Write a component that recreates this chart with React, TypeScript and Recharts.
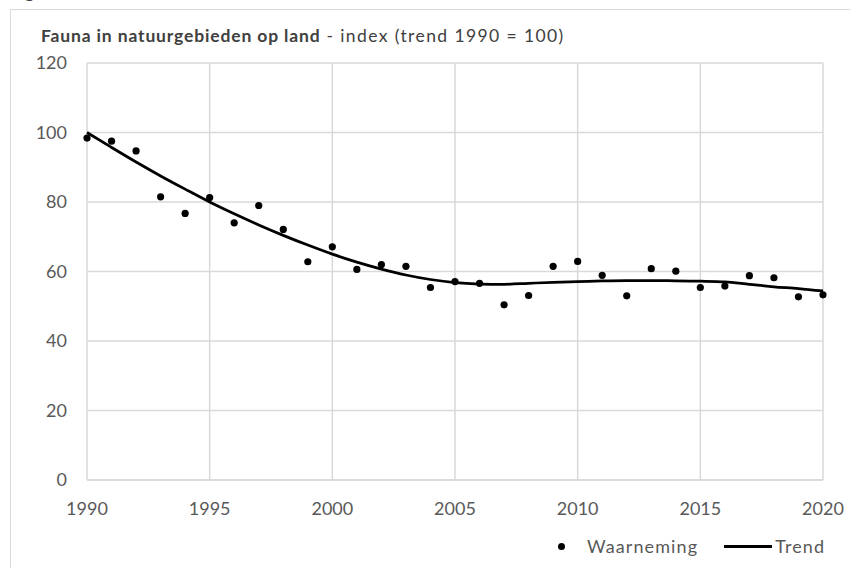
import React from "react";
import {
  ComposedChart,
  Line,
  Scatter,
  XAxis,
  YAxis,
  CartesianGrid,
} from "recharts";

const years = [
  1990, 1991, 1992, 1993, 1994, 1995, 1996, 1997, 1998, 1999, 2000, 2001,
  2002, 2003, 2004, 2005, 2006, 2007, 2008, 2009, 2010, 2011, 2012, 2013,
  2014, 2015, 2016, 2017, 2018, 2019, 2020,
];

// waarneming (observed index)
const observed = [
  98.4, 97.5, 94.7, 81.5, 76.7, 81.3, 74.0, 79.0, 72.1, 62.8, 67.1, 60.6,
  62.0, 61.5, 55.4, 57.1, 56.6, 50.4, 53.1, 61.5, 62.9, 58.9, 53.0, 60.8,
  60.1, 55.4, 55.8, 58.8, 58.2, 52.7, 53.3,
];

// trend line
const trend = [
  100, 95.7, 91.5, 87.5, 83.7, 80.0, 76.6, 73.4, 70.4, 67.6, 65.0, 62.7,
  60.7, 59.0, 57.7, 56.8, 56.4, 56.3, 56.6, 56.9, 57.1, 57.3, 57.4, 57.4,
  57.3, 57.2, 57.0, 56.3, 55.6, 55.1, 54.4,
];

const xTicks = [1990, 1995, 2000, 2005, 2010, 2015, 2020];
const yTicks = [0, 20, 40, 60, 80, 100, 120];

const rows = years.map((year, i) => ({
  year,
  obs: observed[i],
  trend: trend[i],
}));

const font = "Lato, 'Open Sans', sans-serif";
const tickStyle = { fontSize: 18, fill: "#595959", fontFamily: font };

export default function App() {
  return (
    <div
      style={{
        position: "absolute",
        left: 0,
        top: 0,
        width: 850,
        height: 568,
        overflow: "hidden",
        background: "#fff",
        fontFamily: font,
      }}
    >
      <div
        style={{
          position: "absolute",
          left: 10,
          top: -20,
          fontSize: 18,
          fontWeight: 700,
          color: "#404040",
        }}
      >
        Figuur 1
      </div>
      <div
        style={{
          position: "absolute",
          left: 10,
          top: 9,
          width: 900,
          height: 600,
          borderLeft: "1.5px solid #d9d9d9",
          borderTop: "1.5px solid #d9d9d9",
        }}
      />
      <div
        style={{
          position: "absolute",
          left: 41,
          top: 25,
          fontSize: 17.5,
          color: "#404040",
          whiteSpace: "nowrap",
        }}
      >
        <b style={{ letterSpacing: 0.85 }}>Fauna in natuurgebieden op land</b>
        <span style={{ letterSpacing: 1.4 }}> - index (trend 1990 = 100)</span>
      </div>
      <div style={{ position: "absolute", left: 0, top: 0 }}>
        <ComposedChart
          width={850}
          height={568}
          data={rows}
          margin={{ top: 63, right: 27, bottom: 58, left: 0 }}
        >
          <CartesianGrid stroke="#d9d9d9" strokeWidth={1.5} />
          <XAxis
            dataKey="year"
            type="number"
            domain={[1990, 2020]}
            ticks={xTicks}
            tickLine={false}
            tickSize={0}
            tickMargin={22}
            axisLine={{ stroke: "#d9d9d9", strokeWidth: 1.5 }}
            tick={tickStyle}
            height={30}
          />
          <YAxis
            type="number"
            domain={[0, 120]}
            ticks={yTicks}
            tickLine={false}
            tickSize={0}
            tickMargin={20}
            axisLine={false}
            tick={tickStyle}
            width={87}
          />
          <Line
            dataKey="trend"
            type="monotone"
            stroke="#000"
            strokeWidth={2.75}
            dot={false}
            isAnimationActive={false}
          />
          <Scatter
            dataKey="obs"
            fill="#000"
            shape={(p: any) => <circle cx={p.cx} cy={p.cy} r={3.6} fill="#000" />}
            isAnimationActive={false}
          />
        </ComposedChart>
      </div>
      <div
        style={{
          position: "absolute",
          left: 555,
          top: 535,
          display: "flex",
          alignItems: "center",
          fontSize: 18,
          letterSpacing: 1.1,
          color: "#595959",
          whiteSpace: "nowrap",
        }}
      >
        <span
          style={{
            display: "inline-block",
            width: 7,
            height: 7,
            borderRadius: "50%",
            background: "#000",
            marginLeft: 3,
          }}
        />
        <span style={{ marginLeft: 22 }}>Waarneming</span>
        <span
          style={{
            display: "inline-block",
            width: 48,
            height: 3,
            background: "#000",
            marginLeft: 26,
          }}
        />
        <span style={{ marginLeft: 3 }}>Trend</span>
      </div>
    </div>
  );
}
